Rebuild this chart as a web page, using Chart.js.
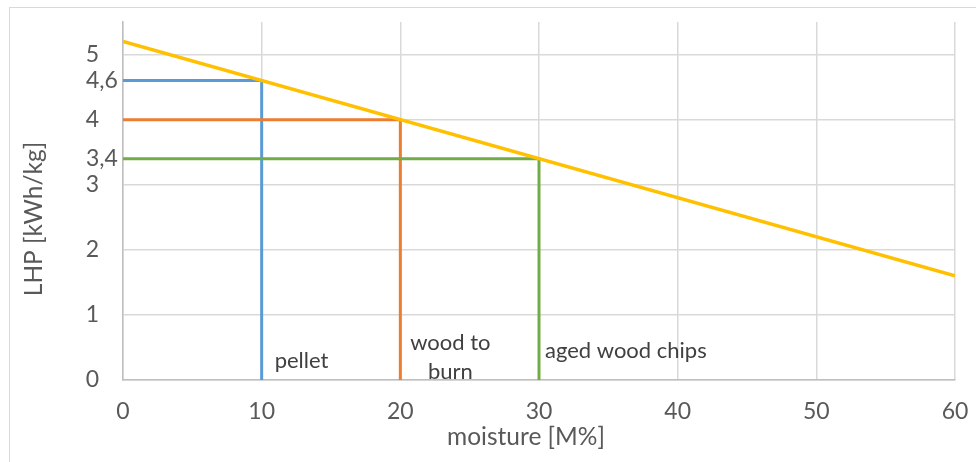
<!DOCTYPE html>
<html>
<head>
<meta charset="utf-8">
<script src="https://cdn.jsdelivr.net/npm/chart.js@4"></script>
<style>
  html, body { margin: 0; padding: 0; background: #fff; }
  #wrap { width: 976px; height: 462px; position: relative; }
</style>
</head>
<body>
<div id="wrap"><canvas id="chart"></canvas></div>
<script>
// heating value vs moisture
const moisture = [0, 60];
const heatingValue = [5.2, 1.6];

// reference lines for each fuel
const pelletX = [0, 10, 10];
const pelletY = [4.6, 4.6, 0];
const woodX = [0, 20, 20];
const woodY = [4, 4, 0];
const chipsX = [0, 30, 30];
const chipsY = [3.4, 3.4, 0];

const extraTicks = [4.6, 3.4];
const extraTickLabels = ['4,6', '3,4'];

const fuelLabels = [
    { x: 10, lines: ['pellet'] },
    { x: 20, lines: ['wood to', 'burn'] },
    { x: 30, lines: ['aged wood chips'] }
];

const xTitle = 'moisture [M%]';
const yTitle = 'LHP [kWh/kg]';

const FONT = 'Lato, "Open Sans", sans-serif';

function toPoints(xs, ys) {
    return xs.map((x, i) => ({ x: x, y: ys[i] }));
}

const labelsPlugin = {
    id: 'fuelLabels',
    beforeDraw(chart) {
        const c = chart.ctx;
        c.save();
        c.strokeStyle = '#D9D9D9';
        c.lineWidth = 1;
        c.strokeRect(9.5, 7.5, 1000, 1000);
        c.restore();
    },
    afterDraw(chart) {
        const c = chart.ctx;
        const xs = chart.scales.x, ys = chart.scales.y;
        c.save();
        c.textBaseline = 'middle';

        // axis titles
        c.fillStyle = '#595959';
        c.font = '24.5px ' + FONT;
        c.textAlign = 'center';
        c.fillText(xTitle, 526, 437);
        c.save();
        c.translate(34, 219);
        c.rotate(-Math.PI / 2);
        c.fillText(yTitle, 0, 0);
        c.restore();

        // value marks on the y axis
        c.font = '23px ' + FONT;
        c.textAlign = 'left';
        extraTicks.forEach((v, i) => {
            c.fillText(extraTickLabels[i], 86, ys.getPixelForValue(v));
        });

        // fuel names next to the vertical lines
        c.font = '22px ' + FONT;
        c.fillStyle = '#404040';
        fuelLabels.forEach(f => {
            const px = xs.getPixelForValue(f.x);
            if (f.lines.length === 1) {
                c.textAlign = 'left';
                c.fillText(f.lines[0], px + (f.x === 10 ? 13 : 6), f.x === 10 ? 361 : 351);
            } else {
                c.textAlign = 'center';
                c.fillText(f.lines[0], px + 50, 343);
                c.fillText(f.lines[1], px + 50, 372);
            }
        });
        c.restore();
    }
};

new Chart(document.getElementById('chart'), {
    type: 'scatter',
    data: {
        datasets: [
            {
                label: 'LHP',
                data: toPoints(moisture, heatingValue),
                showLine: true,
                borderColor: '#FFC000',
                borderWidth: 3.5,
                pointRadius: 0,
                order: 0
            },
            {
                label: 'pellet',
                data: toPoints(pelletX, pelletY),
                showLine: true,
                borderColor: '#5B9BD5',
                borderWidth: 3,
                pointRadius: 0,
                order: 3
            },
            {
                label: 'wood to burn',
                data: toPoints(woodX, woodY),
                showLine: true,
                borderColor: '#ED7D31',
                borderWidth: 3,
                pointRadius: 0,
                order: 2
            },
            {
                label: 'aged wood chips',
                data: toPoints(chipsX, chipsY),
                showLine: true,
                borderColor: '#70AD47',
                borderWidth: 3,
                pointRadius: 0,
                order: 1
            }
        ]
    },
    options: {
        responsive: true,
        maintainAspectRatio: false,
        animation: false,
        layout: {
            padding: { top: 22, right: 21, left: 0, bottom: 0 }
        },
        plugins: {
            legend: { display: false },
            tooltip: { enabled: false }
        },
        scales: {
            x: {
                type: 'linear',
                min: 0,
                max: 60,
                ticks: {
                    stepSize: 10,
                    padding: 18,
                    color: '#595959',
                    font: { family: FONT, size: 23 }
                },
                grid: { color: '#D9D9D9', lineWidth: 1.5, drawTicks: false },
                border: { color: '#BFBFBF', width: 1.5 },
                afterFit(scale) {
                    scale.height = 82;
                    scale.paddingLeft = 0;
                    scale.paddingRight = 0;
                }
            },
            y: {
                min: 0,
                max: 5.5,
                afterBuildTicks(scale) {
                    scale.ticks = scale.ticks.filter(t => Number.isInteger(t.value));
                },
                ticks: {
                    stepSize: 1,
                    padding: 24,
                    color: '#595959',
                    font: { family: FONT, size: 23 }
                },
                grid: { color: '#D9D9D9', lineWidth: 1.5, drawTicks: false },
                border: { color: '#BFBFBF', width: 1.5 },
                afterFit(scale) {
                    scale.width = 123;
                    scale.paddingTop = 0;
                    scale.paddingBottom = 0;
                }
            }
        }
    },
    plugins: [labelsPlugin]
});
</script>
</body>
</html>
